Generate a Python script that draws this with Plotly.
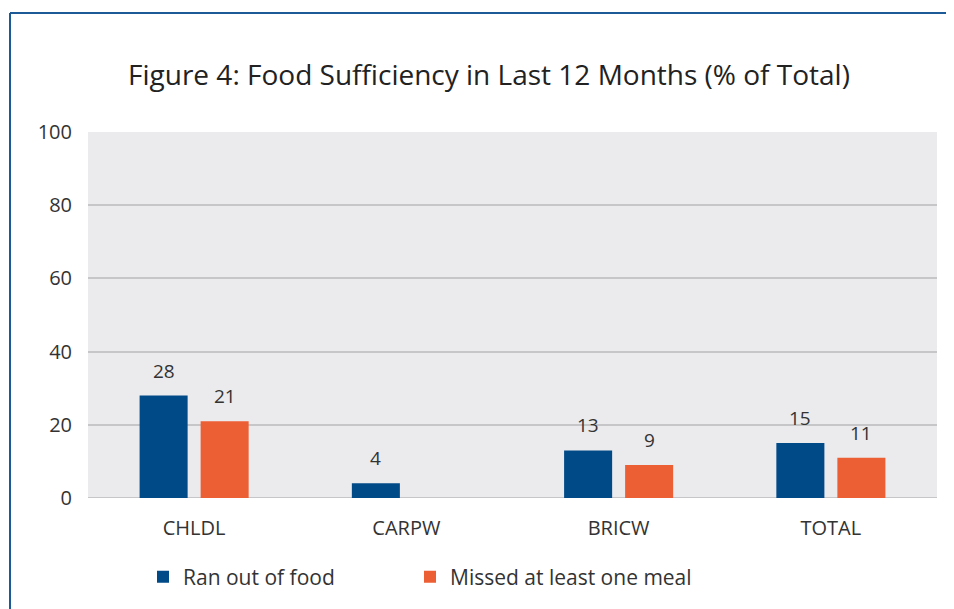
import plotly.graph_objects as go

categories = ["CHLDL", "CARPW", "BRICW", "TOTAL"]
ran_out = [28, 4, 13, 15]
missed_meal = [21, None, 9, 11]
series_names = ["Ran out of food", "Missed at least one meal"]
y_ticks = [0, 20, 40, 60, 80, 100]

BLUE = "#004A87"
ORANGE = "#EC5F34"
TEXT = "#333333"
FONT = "Open Sans"

W, H = 954, 609
OFF = 8  # page body margin offset
PL, PR, PT, PB = 88, 937, 132, 498
ML, MT = PL - OFF, PT - OFF
MR = W - (PR - OFF)
MB = H - (PB - OFF)

fig = go.Figure()
fig.add_trace(go.Bar(x=categories, y=ran_out, name=series_names[0],
                     marker_color=BLUE, marker_line_width=0, legend="legend"))
fig.add_trace(go.Bar(x=categories, y=missed_meal, name=series_names[1],
                     marker_color=ORANGE, marker_line_width=0, legend="legend2"))

for vals, shift in ((ran_out, -30.5), (missed_meal, 30.5)):
    for c, v in zip(categories, vals):
        if v is None:
            continue
        fig.add_annotation(x=c, y=v, xref="x", yref="y", text=str(v),
                           showarrow=False, xshift=shift, yshift=25,
                           yanchor="middle",
                           font=dict(family=FONT, size=19, color=TEXT))

pw = PR - PL
ph = PB - PT
def px(x):
    return (x - PL) / pw
def py(y):
    return (PB - y) / ph

border = dict(color="#1B5A96", width=2)
fig.add_shape(type="line", xref="paper", yref="paper",
              x0=px(10), x1=px(W + 20), y0=py(13), y1=py(13), line=border)
fig.add_shape(type="line", xref="paper", yref="paper",
              x0=px(10), x1=px(10), y0=py(13), y1=py(H + 20), line=border)
fig.add_shape(type="line", xref="paper", yref="y", x0=0, x1=1, y0=0, y1=0,
              line=dict(color="#C6C6C8", width=2), layer="below")

legend_font = dict(family=FONT, size=21, color=TEXT)
fig.update_layout(
    width=W, height=H,
    margin=dict(l=ML, r=MR, t=MT, b=MB),
    paper_bgcolor="white",
    plot_bgcolor="#EBEBED",
    barmode="group",
    bargap=0.425,
    bargroupgap=0.213,
    font=dict(family=FONT, color=TEXT),
    title=dict(text="Figure 4: Food Sufficiency in Last 12 Months (% of Total)",
               x=(489 - OFF) / W, xanchor="center",
               y=1 - (75 - OFF) / H, yanchor="middle",
               font=dict(family=FONT, size=28, color="#222222")),
    yaxis=dict(range=[0, 100], tickvals=y_ticks, showgrid=True,
               gridcolor="#C6C6C8", gridwidth=2, zeroline=False,
               showline=False, ticks="", ticklabelstandoff=15,
               tickfont=dict(family=FONT, size=20, color=TEXT)),
    xaxis=dict(showgrid=False, showline=False, ticks="", ticklabelstandoff=16,
               tickfont=dict(family=FONT, size=20, color=TEXT)),
    showlegend=True,
    legend=dict(orientation="h", x=px(143), xanchor="left",
                y=py(577), yanchor="middle", font=legend_font,
                bgcolor="rgba(0,0,0,0)"),
    legend2=dict(orientation="h", x=px(410), xanchor="left",
                 y=py(577), yanchor="middle", font=legend_font,
                 bgcolor="rgba(0,0,0,0)"),
)

fig.write_html("out.html")
